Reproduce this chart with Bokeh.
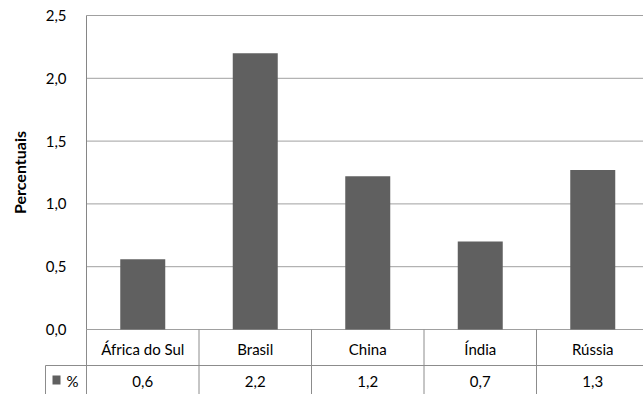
from bokeh.plotting import figure
from bokeh.models import Range1d, FixedTicker, CustomJSTickFormatter
from bokeh.embed import file_html
from bokeh.resources import INLINE
from bokeh.core.properties import value

# ---- data ----
categories = ["África do Sul", "Brasil", "China", "Índia", "Rússia"]
values = [0.56, 2.20, 1.22, 0.70, 1.27]
table_values = ["0,6", "2,2", "1,2", "0,7", "1,3"]
y_ticks = [0.0, 0.5, 1.0, 1.5, 2.0, 2.5]
series_name = "%"
y_axis_label = "Percentuais"

# ---- layout constants (pixels) ----
W, H = 643, 394
AXIS_X = 86              # canvas x of the value axis (category 0 edge)
PX_PER_UNIT = 125.6      # vertical pixels per 1.0
CAT_W = 112.5            # horizontal pixels per category
Y0_PX = 329              # canvas row of value 0

x_start = -AXIS_X / CAT_W
x_end = x_start + W / CAT_W
y_end = Y0_PX / PX_PER_UNIT
y_start = y_end - H / PX_PER_UNIT

def py(px):
    """canvas row -> data value"""
    return (Y0_PX - px) / PX_PER_UNIT

def px_x(px):
    """canvas column -> data value"""
    return (px - AXIS_X) / CAT_W

FONT = "Lato"
FS = "15px"
GRID_C = "#a0a0a0"
LINE_C = "#8c8c8c"
BAR_C = "#606060"
TXT_C = "#000000"

p = figure(width=W, height=H, x_range=Range1d(x_start, x_end), y_range=Range1d(y_start, y_end),
           output_backend="svg", toolbar_location=None, x_axis_location=None,
           min_border_left=0, min_border_top=0, min_border_right=0, min_border_bottom=0,
           outline_line_color=None, background_fill_color="white", border_fill_color="white")

ticker = FixedTicker(ticks=y_ticks)
ax = p.yaxis[0]
ax.fixed_location = 0
ax.bounds = (y_ticks[0], y_ticks[-1])
ax.ticker = ticker
ax.formatter = CustomJSTickFormatter(code="return tick.toFixed(1).replace('.', ',');")
ax.major_tick_out = 0
ax.major_tick_in = 0
ax.minor_tick_out = 0
ax.minor_tick_in = 0
ax.axis_line_color = "#868686"
ax.major_label_standoff = 20
ax.major_label_text_font = FONT
ax.major_label_text_font_size = FS
ax.major_label_text_color = TXT_C
ax.axis_label = y_axis_label
ax.axis_label_text_font = FONT
ax.axis_label_text_font_size = "16px"
ax.axis_label_text_font_style = "bold"
ax.axis_label_text_color = TXT_C
ax.axis_label_standoff = 14
p.xgrid.visible = False
p.ygrid.visible = False

n = len(categories)
xs = [i + 0.5 for i in range(n)]

# horizontal value gridlines, from the axis to the right edge
p.segment(x0=[0] * len(y_ticks), y0=y_ticks, x1=[x_end] * len(y_ticks), y1=y_ticks,
          line_color=GRID_C, line_width=1)

# bars
p.vbar(x=xs, top=values, bottom=0, width=0.4, fill_color=BAR_C, line_color=None)

# data table grid (column borders incl. the one under the axis)
sep_x = list(range(0, n))
p.segment(x0=sep_x, y0=[0] * len(sep_x), x1=sep_x, y1=[y_start] * len(sep_x),
          line_color=LINE_C, line_width=1)
row_sep = py(365)
p.segment(x0=[px_x(45)], y0=[row_sep], x1=[x_end], y1=[row_sep], line_color=LINE_C, line_width=1)
p.segment(x0=[px_x(45)], y0=[row_sep], x1=[px_x(45)], y1=[y_start], line_color=LINE_C, line_width=1)

# table texts
p.text(x=xs, y=[py(348)] * n, text=categories, text_align="center", text_baseline="middle",
       text_font=value(FONT), text_font_size=FS, text_color=TXT_C)
p.text(x=xs, y=[py(381)] * n, text=table_values, text_align="center", text_baseline="middle",
       text_font=value(FONT), text_font_size=FS, text_color=TXT_C)

# legend key in the table's first column
p.quad(left=[px_x(52)], right=[px_x(60)], top=[py(375)], bottom=[py(384)],
       fill_color=BAR_C, line_color=None)
p.text(x=[px_x(66)], y=[py(380)], text=[series_name], text_align="left", text_baseline="middle",
       text_font=value(FONT), text_font_size=FS, text_color=TXT_C)

open("out.html", "w").write(file_html(p, INLINE))
